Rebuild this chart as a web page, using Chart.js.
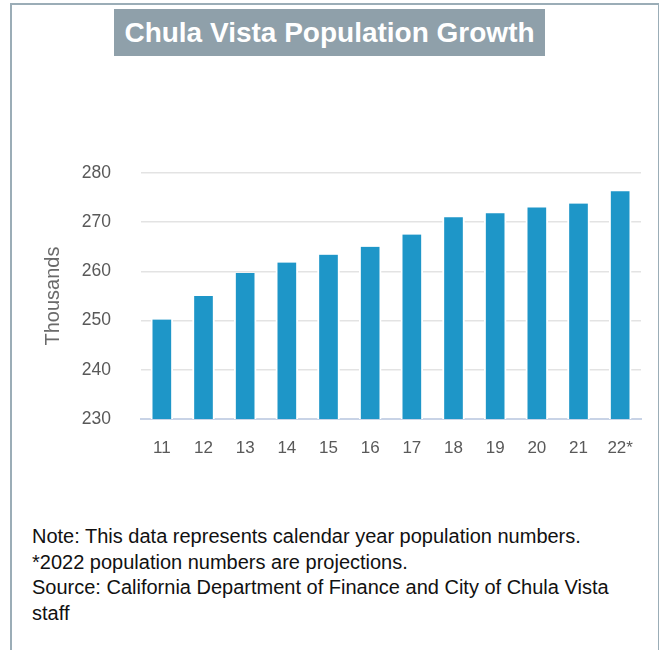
<!DOCTYPE html>
<html>
<head>
<meta charset="utf-8">
<script src="https://cdn.jsdelivr.net/npm/chart.js@4.4.0/dist/chart.umd.min.js"></script>
<style>
  body { margin: 0; background: #fff; font-family: "Liberation Sans", Arial, sans-serif; }
  #frame { position: absolute; left: 10px; top: 3px; width: 646px; height: 700px;
           border: 2px solid #9badb7; border-bottom: none; }
  #title { position: absolute; left: 114px; top: 9px; width: 431px; height: 47px;
           background: #8fa0aa; color: #fff; font-weight: bold; font-size: 28px;
           line-height: 47px; text-align: center; }
  #wrap { position: absolute; left: 0; top: 120px; width: 659px; height: 360px; }
  #notes { position: absolute; left: 32px; top: 524px; font-size: 20px; line-height: 25.5px; color: #111; }
</style>
</head>
<body>
<div id="frame"></div>
<div id="title">Chula Vista Population Growth</div>
<div id="wrap"><canvas id="myChart"></canvas></div>
<div id="notes">Note: This data represents calendar year population numbers.<br>
*2022 population numbers are projections.<br>
Source: California Department of Finance and City of Chula Vista<br>
staff</div>
<script>
const years = ['11', '12', '13', '14', '15', '16', '17', '18', '19', '20', '21', '22*'];
const population = [250.2, 255.0, 259.7, 261.8, 263.4, 265.0, 267.5, 271.0, 271.8, 273.0, 273.8, 276.3]; // thousands
const yTicks = [230, 240, 250, 260, 270, 280];

const ctx = document.getElementById('myChart').getContext('2d');
const myChart = new Chart(ctx, {
    type: 'bar',
    data: {
        labels: years,
        datasets: [{
            label: 'Population',
            data: population,
            backgroundColor: '#1e96c8',
            borderColor: '#ffffff',
            borderWidth: { left: 2, right: 2, top: 0, bottom: 0 },
            borderSkipped: false,
            barThickness: 22
        }]
    },
    options: {
        responsive: true,
        maintainAspectRatio: false,
        animation: false,
        layout: { padding: { left: 40, right: 18, top: 53, bottom: 21 } },
        plugins: { legend: { display: false }, tooltip: { enabled: false } },
        scales: {
            x: {
                grid: { display: false, drawTicks: false },
                border: { display: true, color: '#c8d3e6', width: 2 },
                ticks: { color: '#595959', font: { family: 'Liberation Sans', size: 17 }, padding: 19 },
                afterFit: s => { s.height = 40; }
            },
            y: {
                min: yTicks[0],
                max: yTicks[yTicks.length - 1],
                afterBuildTicks: s => { s.ticks = yTicks.map(v => ({ value: v })); },
                grid: {
                    drawTicks: false,
                    lineWidth: 1.5,
                    color: c => c.tick && c.tick.value === yTicks[0] ? 'rgba(0,0,0,0)' : '#e3e3e3'
                },
                border: { display: false },
                ticks: { color: '#595959', font: { family: 'Liberation Sans', size: 17.5 }, padding: 30 },
                title: {
                    display: true,
                    text: 'Thousands',
                    color: '#6a6a6a',
                    font: { family: 'Liberation Sans', size: 20 },
                    padding: { top: 1, bottom: 0 }
                },
                afterFit: s => { s.width = 101; }
            }
        }
    }
});
</script>
</body>
</html>
